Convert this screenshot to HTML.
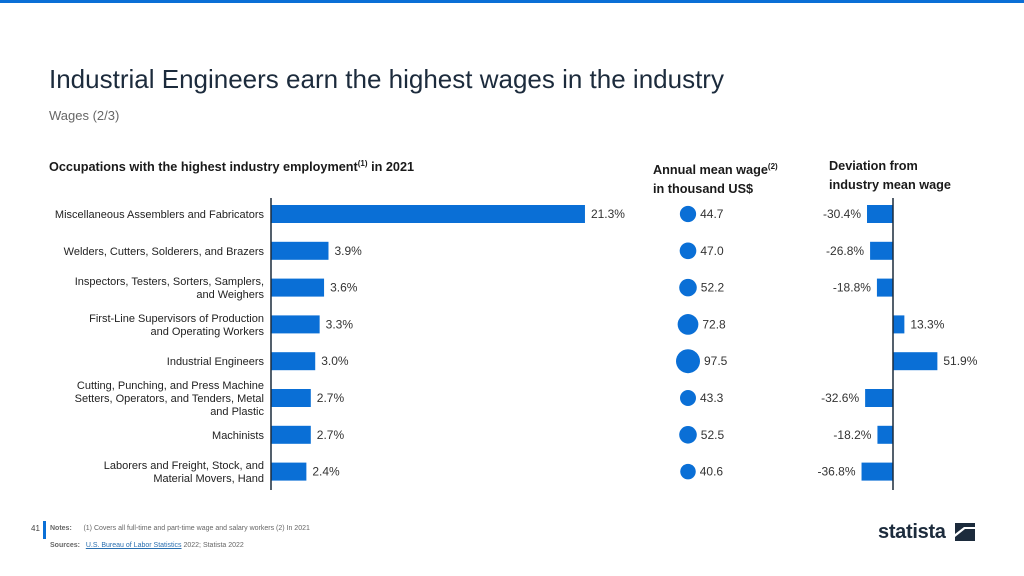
<!DOCTYPE html>
<html><head><meta charset="utf-8"><style>
body{margin:0;width:1024px;height:576px;background:#fff;font-family:"Liberation Sans",sans-serif;position:relative;overflow:hidden}
.abs{position:absolute;white-space:nowrap}
</style></head><body>
<div class="abs" style="left:0;top:0;width:1024px;height:3px;background:#0a6fd6"></div>
<div class="abs" style="left:49px;top:64px;font-size:26px;color:#1c2b3c">Industrial Engineers earn the highest wages in the industry</div>
<div class="abs" style="left:49px;top:108px;font-size:13px;color:#666">Wages (2/3)</div>
<div class="abs" style="left:49px;top:159px;font-size:12.7px;font-weight:bold;color:#1a1a1a">Occupations with the highest industry employment<sup style="font-size:8px">(1)</sup> in 2021</div>
<div class="abs" style="left:653px;top:157px;font-size:12.7px;font-weight:bold;color:#1a1a1a;line-height:19px">Annual mean wage<sup style="font-size:8px">(2)</sup><br>in thousand US$</div>
<div class="abs" style="left:829px;top:157px;font-size:12.7px;font-weight:bold;color:#1a1a1a;line-height:19px">Deviation from<br>industry mean wage</div>
<svg class="abs" style="left:0;top:0" width="1024" height="576" id="chart"></svg>
<div class="abs" style="left:31px;top:524px;font-size:8px;color:#444">41</div>
<div class="abs" style="left:43px;top:521px;width:3px;height:18px;background:#0a6fd6"></div>
<div class="abs" style="left:50px;top:525px;font-size:7px;color:#666"><b>Notes:</b>&nbsp;&nbsp;&nbsp;&nbsp;&nbsp; (1) Covers all full-time and part-time wage and salary workers (2) In 2021</div>
<div class="abs" style="left:50px;top:542px;font-size:7px;color:#666"><b>Sources:</b>&nbsp;&nbsp; <span style="color:#2a6fb0;text-decoration:underline">U.S. Bureau of Labor Statistics</span> 2022; Statista 2022</div>
<div class="abs" style="left:878px;top:521px;font-size:20px;font-weight:bold;color:#1c2b3c;letter-spacing:-0.3px">statista</div>
<svg class="abs" style="left:955px;top:523px" width="20" height="18"><rect width="20" height="18" fill="#1c2b3c"/><path d="M0 14 L10 6 L20 6 L20 4 L9 4 L0 11Z" fill="#fff"/></svg>
<script>
const categories=["Miscellaneous Assemblers and Fabricators","Welders, Cutters, Solderers, and Brazers","Inspectors, Testers, Sorters, Samplers,|and Weighers","First-Line Supervisors of Production|and Operating Workers","Industrial Engineers","Cutting, Punching, and Press Machine|Setters, Operators, and Tenders, Metal|and Plastic","Machinists","Laborers and Freight, Stock, and|Material Movers, Hand"];
const shares=[21.3,3.9,3.6,3.3,3.0,2.7,2.7,2.4];
const wages=[44.7,47.0,52.2,72.8,97.5,43.3,52.5,40.6];
const deviations=[-30.4,-26.8,-18.8,13.3,51.9,-32.6,-18.2,-36.8];
const NS="http://www.w3.org/2000/svg";
const svg=document.getElementById('chart');
const blue="#0a6fd6";
const rowY=i=>214+i*36.8;
const xShare=v=>271+v*14.74;
const rWage=v=>1.215*Math.sqrt(v);
const xDev=v=>893+v*0.855;
function mk(t,a,txt){const e=document.createElementNS(NS,t);for(const k in a)e.setAttribute(k,a[k]);if(txt!=null)e.textContent=txt;svg.appendChild(e);return e;}
categories.forEach((c,i)=>{
  const y=rowY(i);const lines=c.split('|');
  lines.forEach((l,j)=>{
    const t=mk('text',{x:264,y:y+4+(j-(lines.length-1)/2)*13,'text-anchor':'end','font-size':11,fill:'#222'},l);
    
  });
  const b=mk('rect',{x:271,y:y-9,width:xShare(shares[i])-271,height:18,fill:blue});
  
  const sl=mk('text',{x:xShare(shares[i])+6,y:y+4,'font-size':12,fill:'#333'},shares[i].toFixed(1)+'%');
  
  const r=rWage(wages[i]);
  const ci=mk('circle',{cx:688,cy:y,r:r,fill:blue});
  
  const wl=mk('text',{x:688+r+4,y:y+4,'font-size':12,fill:'#333'},wages[i].toFixed(1));
  
  const d=deviations[i];const x0=Math.min(xDev(0),xDev(d));
  const db=mk('rect',{x:x0,y:y-9,width:Math.abs(xDev(d)-xDev(0)),height:18,fill:blue});
  
  const dl=mk('text',{x:d<0?xDev(d)-6:xDev(d)+6,y:y+4,'text-anchor':d<0?'end':'start','font-size':12,fill:'#333'},d.toFixed(1)+'%');
  
});
const a1=mk('line',{x1:271,x2:271,y1:198,y2:490,stroke:'#1c2b3c','stroke-width':1.5});

const a2=mk('line',{x1:893,x2:893,y1:198,y2:490,stroke:'#1c2b3c','stroke-width':1.5});

</script>
</body></html>
